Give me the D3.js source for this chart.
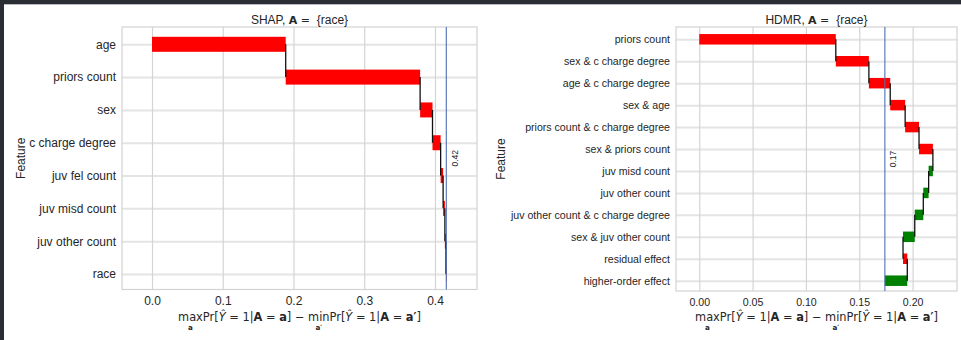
<!DOCTYPE html>
<html><head><meta charset="utf-8">
<script src="https://cdn.jsdelivr.net/npm/d3@7/dist/d3.min.js"></script>
<style>
body{margin:0;background:#fff;}
svg{display:block;}
text{font-family:"Liberation Sans",Arial,sans-serif;fill:#262626;white-space:pre;}
</style>
</head><body><svg id="c" width="961" height="340"></svg>
<script>
// ---------- data ----------
const shapFeatures = ["age","priors count","sex","c charge degree","juv fel count","juv misd count","juv other count","race"];
const shapValues   = [0.189, 0.190, 0.0175, 0.0115, 0.0035, 0.0025, 0.0015, 0.001];
const shapTicks    = [0.0, 0.1, 0.2, 0.3, 0.4];
const shapTotal    = 0.416;

const hdmrFeatures = ["priors count","sex & c charge degree","age & c charge degree","sex & age",
  "priors count & c charge degree","sex & priors count","juv misd count","juv other count",
  "juv other count & c charge degree","sex & juv other count","residual effect","higher-order effect"];
const hdmrValues   = [0.128, 0.031, 0.020, 0.014, 0.013, 0.013, -0.004, -0.005, -0.008, -0.011, 0.004, -0.021];
const hdmrTicks    = [0.00, 0.05, 0.10, 0.15, 0.20];
const hdmrTotal    = 0.174;

const yLabel = "Feature";
const xLabelParts = [
  {t:"max", sub:"a"}, {t:"Pr["}, {t:"Ŷ", it:true}, {t:" = 1|"}, {t:"A", b:true}, {t:" = "}, {t:"a", b:true},
  {t:"] − "}, {t:"min", sub:"a′"}, {t:"Pr["}, {t:"Ŷ", it:true}, {t:" = 1|"}, {t:"A", b:true}, {t:" = "}, {t:"a′", b:true}, {t:"]"}
];

// ---------- drawing ----------
const svg = d3.select("#c");
svg.append("rect").attr("x",0).attr("y",0).attr("width",961).attr("height",340).attr("fill","#fff");
svg.append("rect").attr("x",0).attr("y",0).attr("width",961).attr("height",4).attr("fill","#2a2d34");
svg.append("rect").attr("x",0).attr("y",0).attr("width",4).attr("height",340).attr("fill","#2a2d34");
svg.append("line").attr("x1",4).attr("x2",961).attr("y1",4.5).attr("y2",4.5).attr("stroke","#b8bcc2").attr("stroke-width",1);

function mathLabel(cx, baseY, fs){
  const g = svg.append("g");
  const t = g.append("text").attr("x",0).attr("y",baseY)
    .style("font-family","DejaVu Sans").style("font-size",fs+"px");
  const spans = [];
  xLabelParts.forEach(p=>{
    const s = t.append("tspan").text(p.t);
    if(p.b) s.style("font-weight","bold");
    if(p.it) s.style("font-style","italic");
    spans.push({node:s.node(), p});
  });
  const w = t.node().getComputedTextLength();
  let idx = 0;
  spans.forEach(({node,p})=>{
    if(p.sub){
      const sx = t.node().getStartPositionOfChar(idx).x;
      const sw = node.getComputedTextLength();
      g.append("text").attr("x", sx + sw/2).attr("y", baseY + 8.5)
        .attr("text-anchor","middle")
        .style("font-family","DejaVu Sans").style("font-weight","bold")
        .style("font-size","7.2px").text(p.sub);
    }
    idx += p.t.length;
  });
  g.attr("transform",`translate(${cx - w/2},0)`);
}

function panel(cfg){
  const x = d3.scaleLinear().domain(cfg.xDomain).range([cfg.x0, cfg.x1]);
  const y = d3.scalePoint().domain(cfg.cats).range([cfg.yFirst, cfg.yLast]);
  const g = svg.append("g");
  const W = cfg.x1 - cfg.x0, H = cfg.y1 - cfg.y0;

  // horizontal grid
  g.append("g").attr("transform",`translate(${cfg.x0},0)`)
    .call(d3.axisLeft(y).tickSize(-W).tickFormat(""))
    .call(a=>{a.select(".domain").remove(); a.selectAll("line").attr("stroke","#e4e4e4").attr("stroke-width",2);});
  // vertical grid
  g.append("g").attr("transform",`translate(0,${cfg.y1})`)
    .call(d3.axisBottom(x).tickValues(cfg.ticks).tickSize(-H).tickFormat(""))
    .call(a=>{a.select(".domain").remove(); a.selectAll("line").attr("stroke","#d4d4d4").attr("stroke-width",1.2);});
  // frame
  g.append("rect").attr("x",cfg.x0).attr("y",cfg.y0).attr("width",W).attr("height",H)
    .attr("fill","none").attr("stroke","#d2d2d2").attr("stroke-width",1.2);

  // x tick labels
  g.append("g").attr("transform",`translate(0,${cfg.y1})`)
    .call(d3.axisBottom(x).tickValues(cfg.ticks).tickSize(0).tickPadding(cfg.tickPad).tickFormat(d3.format(cfg.fmt)))
    .call(a=>{a.select(".domain").remove(); a.selectAll("text").style("font-size",cfg.tickFs+"px").attr("fill","#262626")
      .style("font-family","'Liberation Sans',Arial,sans-serif");});
  // y tick labels
  g.append("g").attr("transform",`translate(${cfg.x0},0)`)
    .call(d3.axisLeft(y).tickSize(0).tickPadding(6))
    .call(a=>{a.select(".domain").remove(); a.selectAll("text").style("font-size",cfg.catFs+"px").attr("fill","#262626")
      .style("font-family","'Liberation Sans',Arial,sans-serif");});

  // waterfall
  let cum = 0;
  const rows = cfg.values.map((v,i)=>{const s = cum; cum += v; return {cat:cfg.cats[i], s, e:cum, v};});
  g.selectAll("rect.bar").data(rows).join("rect").attr("class","bar")
    .attr("x", d=>x(Math.min(d.s,d.e)))
    .attr("width", d=>Math.max(0.6, Math.abs(x(d.e)-x(d.s))))
    .attr("y", d=>y(d.cat)-cfg.barH/2).attr("height", cfg.barH)
    .attr("fill", d=>d.v>=0 ? "#ff0000" : "#008000");
  g.selectAll("line.conn").data(rows.slice(0,-1)).join("line").attr("class","conn")
    .attr("x1", d=>x(d.e)).attr("x2", d=>x(d.e))
    .attr("y1", d=>y(d.cat)).attr("y2", (d,i)=>y(rows[i+1].cat))
    .attr("stroke","#111").attr("stroke-width",1.3);

  // total line
  const tx = x(cfg.total);
  g.append("line").attr("x1",tx).attr("x2",tx).attr("y1",cfg.y0).attr("y2",cfg.y1)
    .attr("stroke","#4c6fb5").attr("stroke-width",1.1);
  g.append("text").attr("transform",`translate(${tx+cfg.totalOff},${(cfg.y0+cfg.y1)/2}) rotate(-90)`)
    .attr("text-anchor","middle").attr("dominant-baseline","central")
    .style("font-size","8.5px").attr("fill","#444").text(d3.format(".2f")(cfg.total));

  // title
  const cx = (cfg.x0+cfg.x1)/2;
  const tt = g.append("text").attr("x",cx).attr("y",24).attr("text-anchor","middle").style("font-size","12px");
  tt.append("tspan").text(cfg.title + ", ");
  tt.append("tspan").style("font-weight","bold").style("font-family","DejaVu Sans").style("font-size","11px").text("A");
  tt.append("tspan").style("font-family","DejaVu Sans").style("font-size","11px").text(" = ");
  tt.append("tspan").text(" {race}");

  // y label
  g.append("text").attr("transform",`translate(${cfg.featX},${(cfg.y0+cfg.y1)/2}) rotate(-90)`)
    .attr("text-anchor","middle").attr("dominant-baseline","central")
    .style("font-size","12px").text(yLabel);

  mathLabel(cx, 321, 11.4);
}

panel({cats:shapFeatures, values:shapValues, ticks:shapTicks, total:shapTotal, title:"SHAP",
  x0:122, x1:477, y0:27, y1:289.5, xDomain:[-0.0424,0.4594], yFirst:44.3, yLast:274,
  barH:15, tickFs:12, catFs:12, tickPad:7, fmt:".1f", featX:21, totalOff:9});
panel({cats:hdmrFeatures, values:hdmrValues, ticks:hdmrTicks, total:hdmrTotal, title:"HDMR",
  x0:676, x1:957, y0:27, y1:291, xDomain:[-0.0218,0.2416], yFirst:39.3, yLast:280.7,
  barH:10.5, tickFs:10.6, catFs:10.6, tickPad:7.5, fmt:".2f", featX:500.5, totalOff:8});
</script>
</body></html>
